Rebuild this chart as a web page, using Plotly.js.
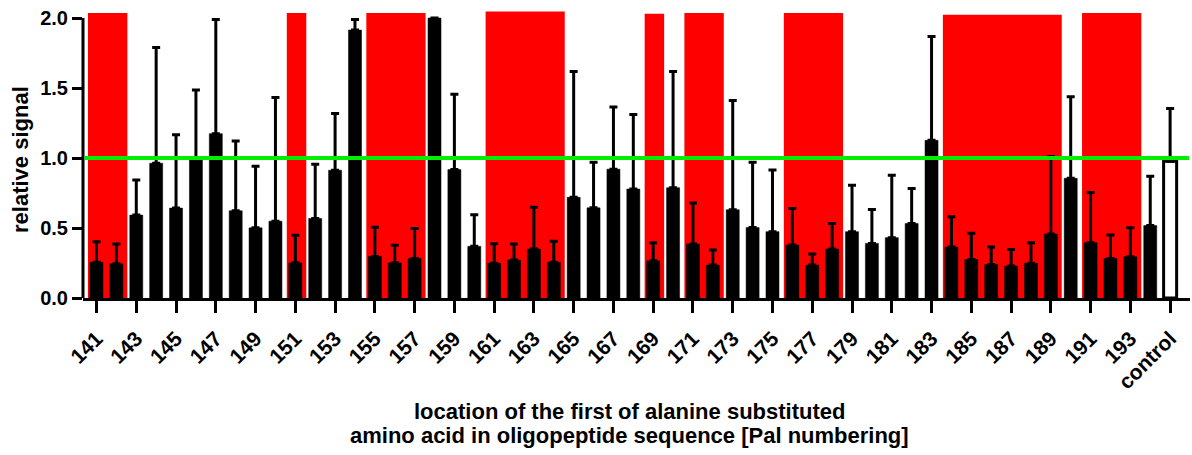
<!DOCTYPE html>
<html>
<head>
<meta charset="utf-8">
<script src="https://cdn.plot.ly/plotly-3.0.1.min.js"></script>
<style>
  html, body { margin: 0; padding: 0; background: #fff; }
  #chart { width: 1192px; height: 455px; }
</style>
</head>
<body>
<div id="chart"></div>
<script>
// ---- data ----
const categories = ['141','142','143','144','145','146','147','148','149','150',
  '151','152','153','154','155','156','157','158','159','160',
  '161','162','163','164','165','166','167','168','169','170',
  '171','172','173','174','175','176','177','178','179','180',
  '181','182','183','184','185','186','187','188','189','190',
  '191','192','193','194','control'];

const signal = [0.256,0.244,0.592,0.963,0.642,0.990,1.174,0.623,0.501,0.549,
  0.251,0.568,0.913,1.914,0.297,0.251,0.283,2.000,0.917,0.369,
  0.249,0.271,0.350,0.256,0.719,0.644,0.920,0.778,0.266,0.788,
  0.386,0.235,0.630,0.503,0.474,0.378,0.235,0.350,0.474,0.390,
  0.431,0.532,1.126,0.364,0.275,0.240,0.228,0.249,0.457,0.855,
  0.395,0.283,0.295,0.517,0.977];

const signalSD = [0.146,0.141,0.251,0.826,0.524,0.495,0.816,0.498,0.440,0.883,
  0.197,0.388,0.404,0.076,0.208,0.125,0.213,0.000,0.539,0.225,
  0.139,0.115,0.299,0.149,0.898,0.326,0.445,0.532,0.129,0.829,
  0.292,0.108,0.781,0.467,0.441,0.262,0.079,0.182,0.331,0.242,
  0.446,0.251,0.742,0.216,0.187,0.124,0.119,0.146,0.554,0.582,
  0.359,0.167,0.206,0.352,0.376];

const tickLabels = ['141','143','145','147','149','151','153','155','157','159',
  '161','163','165','167','169','171','173','175','177','179',
  '181','183','185','187','189','191','193','control'];

const yTickVals = [0, 0.5, 1.0, 1.5, 2.0];
const yTickText = ['0.0', '0.5', '1.0', '1.5', '2.0'];

// highlighted (red) stretches of the sequence
const redFrom = ['141','151','155','161','169','171','176','184','191'];
const redTo   = ['142','151','157','164','169','172','178','189','193'];
const redTop  = [2.036,2.036,2.036,2.047,2.030,2.036,2.036,2.024,2.036];

const referenceLevel = 1.0;

const yTitle = 'relative signal';
const xTitleLines = ['location of the first of alanine substituted',
                     'amino acid in oligopeptide sequence [Pal numbering]'];

// ---- chart ----
const idx = c => categories.indexOf(c);

const shapes = [];
for (let k = 0; k < redFrom.length; k++) {
  shapes.push({
    type: 'rect', layer: 'below', xref: 'x', yref: 'y',
    x0: idx(redFrom[k]) - 0.43, x1: idx(redTo[k]) + 0.55,
    y0: 0, y1: redTop[k],
    fillcolor: '#ff0000', line: {width: 0}
  });
}
// y axis line (ends at 2.0)
shapes.push({
  type: 'line', layer: 'above', xref: 'paper', yref: 'y',
  x0: 0, x1: 0, y0: 0, y1: yTickVals[yTickVals.length - 1],
  line: {color: '#000', width: 3}
});
// green reference line
shapes.push({
  type: 'line', layer: 'above', xref: 'x', yref: 'y',
  x0: -0.6, x1: categories.length - 0.05, y0: referenceLevel, y1: referenceLevel,
  line: {color: '#00ee00', width: 4}
});

const trace = {
  type: 'bar',
  x: categories,
  y: signal,
  marker: {
    color: categories.map(c => c === 'control' ? '#ffffff' : '#000000'),
    line: {
      color: '#000000',
      width: categories.map(c => c === 'control' ? 3 : 0.5)
    }
  },
  error_y: {
    type: 'data',
    symmetric: false,
    array: signalSD,
    arrayminus: signalSD.map(() => 0),
    color: '#000000',
    thickness: 3,
    width: 4
  },
  hoverinfo: 'x+y'
};

const font = {family: '"Liberation Sans", Arial, sans-serif', color: '#000', weight: 'bold'};
const titleFont = Object.assign({}, font, {size: 22});

const annotations = [
  {
    text: yTitle, textangle: -90, showarrow: false,
    xref: 'paper', yref: 'y', x: 0, y: referenceLevel,
    xanchor: 'center', yanchor: 'middle', xshift: -63, yshift: -2,
    font: titleFont
  },
  {
    text: xTitleLines[0], showarrow: false,
    xref: 'paper', yref: 'paper', x: 0.494, y: 0,
    xanchor: 'center', yanchor: 'middle', yshift: -113,
    font: titleFont
  },
  {
    text: xTitleLines[1], showarrow: false,
    xref: 'paper', yref: 'paper', x: 0.494, y: 0,
    xanchor: 'center', yanchor: 'middle', yshift: -137,
    font: titleFont
  }
];

const layout = {
  width: 1192, height: 455,
  margin: {l: 83, r: 2, t: 11, b: 157},
  paper_bgcolor: '#fff', plot_bgcolor: '#fff',
  showlegend: false,
  bargap: 0.345,
  font: font,
  xaxis: {
    type: 'category',
    range: [-0.68, 55.0],
    tickmode: 'array',
    tickvals: tickLabels,
    ticktext: tickLabels,
    tickangle: -45,
    tickfont: Object.assign({}, font, {size: 21}),
    ticklabelstandoff: 5,
    ticks: 'outside', ticklen: 12, tickwidth: 3, tickcolor: '#000',
    showline: true, linecolor: '#000', linewidth: 3,
    showgrid: false, zeroline: false
  },
  yaxis: {
    range: [0, 2.05],
    tickmode: 'array',
    tickvals: yTickVals,
    ticktext: yTickText,
    tickfont: Object.assign({}, font, {size: 20}),
    ticks: 'outside', ticklen: 10, tickwidth: 3, tickcolor: '#000',
    showline: false,
    showgrid: false, zeroline: false
  },
  shapes: shapes,
  annotations: annotations
};

Plotly.newPlot('chart', [trace], layout, {displayModeBar: false, staticPlot: true});
</script>
</body>
</html>
